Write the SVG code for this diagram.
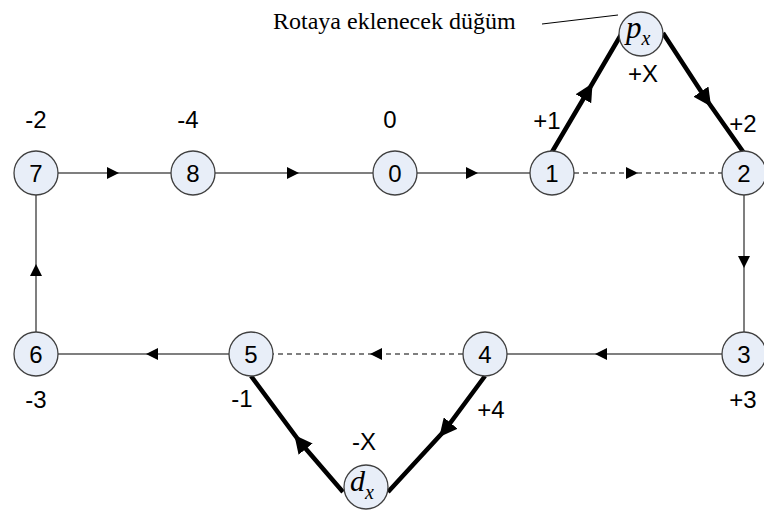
<svg xmlns="http://www.w3.org/2000/svg" width="764" height="521" viewBox="0 0 764 521">
<defs>
<marker id="a" markerUnits="userSpaceOnUse" markerWidth="12" markerHeight="12" viewBox="0 0 10 10" refX="5" refY="5" orient="auto"><path d="M0,0 L10,5 L0,10 z" fill="#000"/></marker>
<marker id="b" markerUnits="userSpaceOnUse" markerWidth="18" markerHeight="18" viewBox="0 0 10 10" refX="5" refY="5" orient="auto"><path d="M0,0 L10,5 L0,10 z" fill="#000"/></marker>
</defs>
<style>
.n{fill:#E8EEF8;stroke:#404040;stroke-width:1.3}
.t{font-family:"Liberation Sans",Arial,sans-serif;font-size:24px;fill:#000;text-anchor:middle}
.l{stroke:#555;stroke-width:1.5;fill:none;marker-mid:url(#a)}
.d{stroke:#555;stroke-width:1.3;fill:none;stroke-dasharray:5,4;marker-mid:url(#a)}
.k{stroke:#000;stroke-width:4.5;fill:none;marker-mid:url(#b)}
.s{font-family:"Liberation Serif","Times New Roman",serif;font-style:italic;fill:#000}
</style>
<g id="connectors">
<path class="l" d="M58,173 L113,173 L171,173"/>
<path class="l" d="M215,173 L293,173 L373,173"/>
<path class="l" d="M417,173 L472,173 L530,173"/>
<path class="d" d="M574,173 L632,173 L722,173"/>
<path class="l" d="M744,195 L744,262 L744,332"/>
<path class="l" d="M722,354 L601,354 L507,354"/>
<path class="d" d="M463,354 L376,354 L273,354"/>
<path class="l" d="M229,354 L152,354 L58,354"/>
<path class="l" d="M36,332 L36,270 L36,195"/>
<path class="k" d="M552,152 L588,91 L622,33"/>
<path class="k" d="M663,33 L706,99 L744,153"/>
<path class="k" d="M485,376 L445,430 L388,492"/>
<path class="k" d="M343,492 L300,442 L251,376"/>
<path d="M542,24 L618,15" stroke="#000" stroke-width="1" fill="none"/>
</g>
<g id="n7"><circle class="n" cx="36" cy="173" r="22"/><text class="t" x="36" y="182">7</text></g>
<g id="n8"><circle class="n" cx="193" cy="173" r="22"/><text class="t" x="193" y="182">8</text></g>
<g id="n0"><circle class="n" cx="395" cy="173" r="22"/><text class="t" x="395" y="182">0</text></g>
<g id="n1"><circle class="n" cx="552" cy="173" r="22"/><text class="t" x="552" y="182">1</text></g>
<g id="n2"><circle class="n" cx="744" cy="173" r="22"/><text class="t" x="744" y="182">2</text></g>
<g id="n3"><circle class="n" cx="744" cy="354" r="22"/><text class="t" x="744" y="363">3</text></g>
<g id="n4"><circle class="n" cx="485" cy="354" r="22"/><text class="t" x="485" y="363">4</text></g>
<g id="n5"><circle class="n" cx="251" cy="354" r="22"/><text class="t" x="251" y="363">5</text></g>
<g id="n6"><circle class="n" cx="36" cy="354" r="22"/><text class="t" x="36" y="363">6</text></g>
<g id="px"><circle class="n" cx="641" cy="34" r="22"/><text class="s" x="626" y="38" font-size="31">p<tspan font-size="20" dy="7">x</tspan></text></g>
<g id="dx"><circle class="n" cx="366" cy="487" r="22"/><text class="s" x="350" y="491" font-size="30">d<tspan font-size="20" dy="8">x</tspan></text></g>
<g id="labels">
<text class="t" x="36" y="128">-2</text>
<text class="t" x="188" y="128">-4</text>
<text class="t" x="390" y="128">0</text>
<text class="t" x="547" y="129">+1</text>
<text class="t" x="643" y="82">+X</text>
<text class="t" x="743" y="132">+2</text>
<text class="t" x="36" y="408">-3</text>
<text class="t" x="242" y="407">-1</text>
<text class="t" x="364" y="450">-X</text>
<text class="t" x="491" y="418">+4</text>
<text class="t" x="743" y="408">+3</text>
<text x="273" y="29" font-family="Liberation Serif,'Times New Roman',serif" font-size="24" fill="#000">Rotaya eklenecek düğüm</text>
</g>
</svg>
